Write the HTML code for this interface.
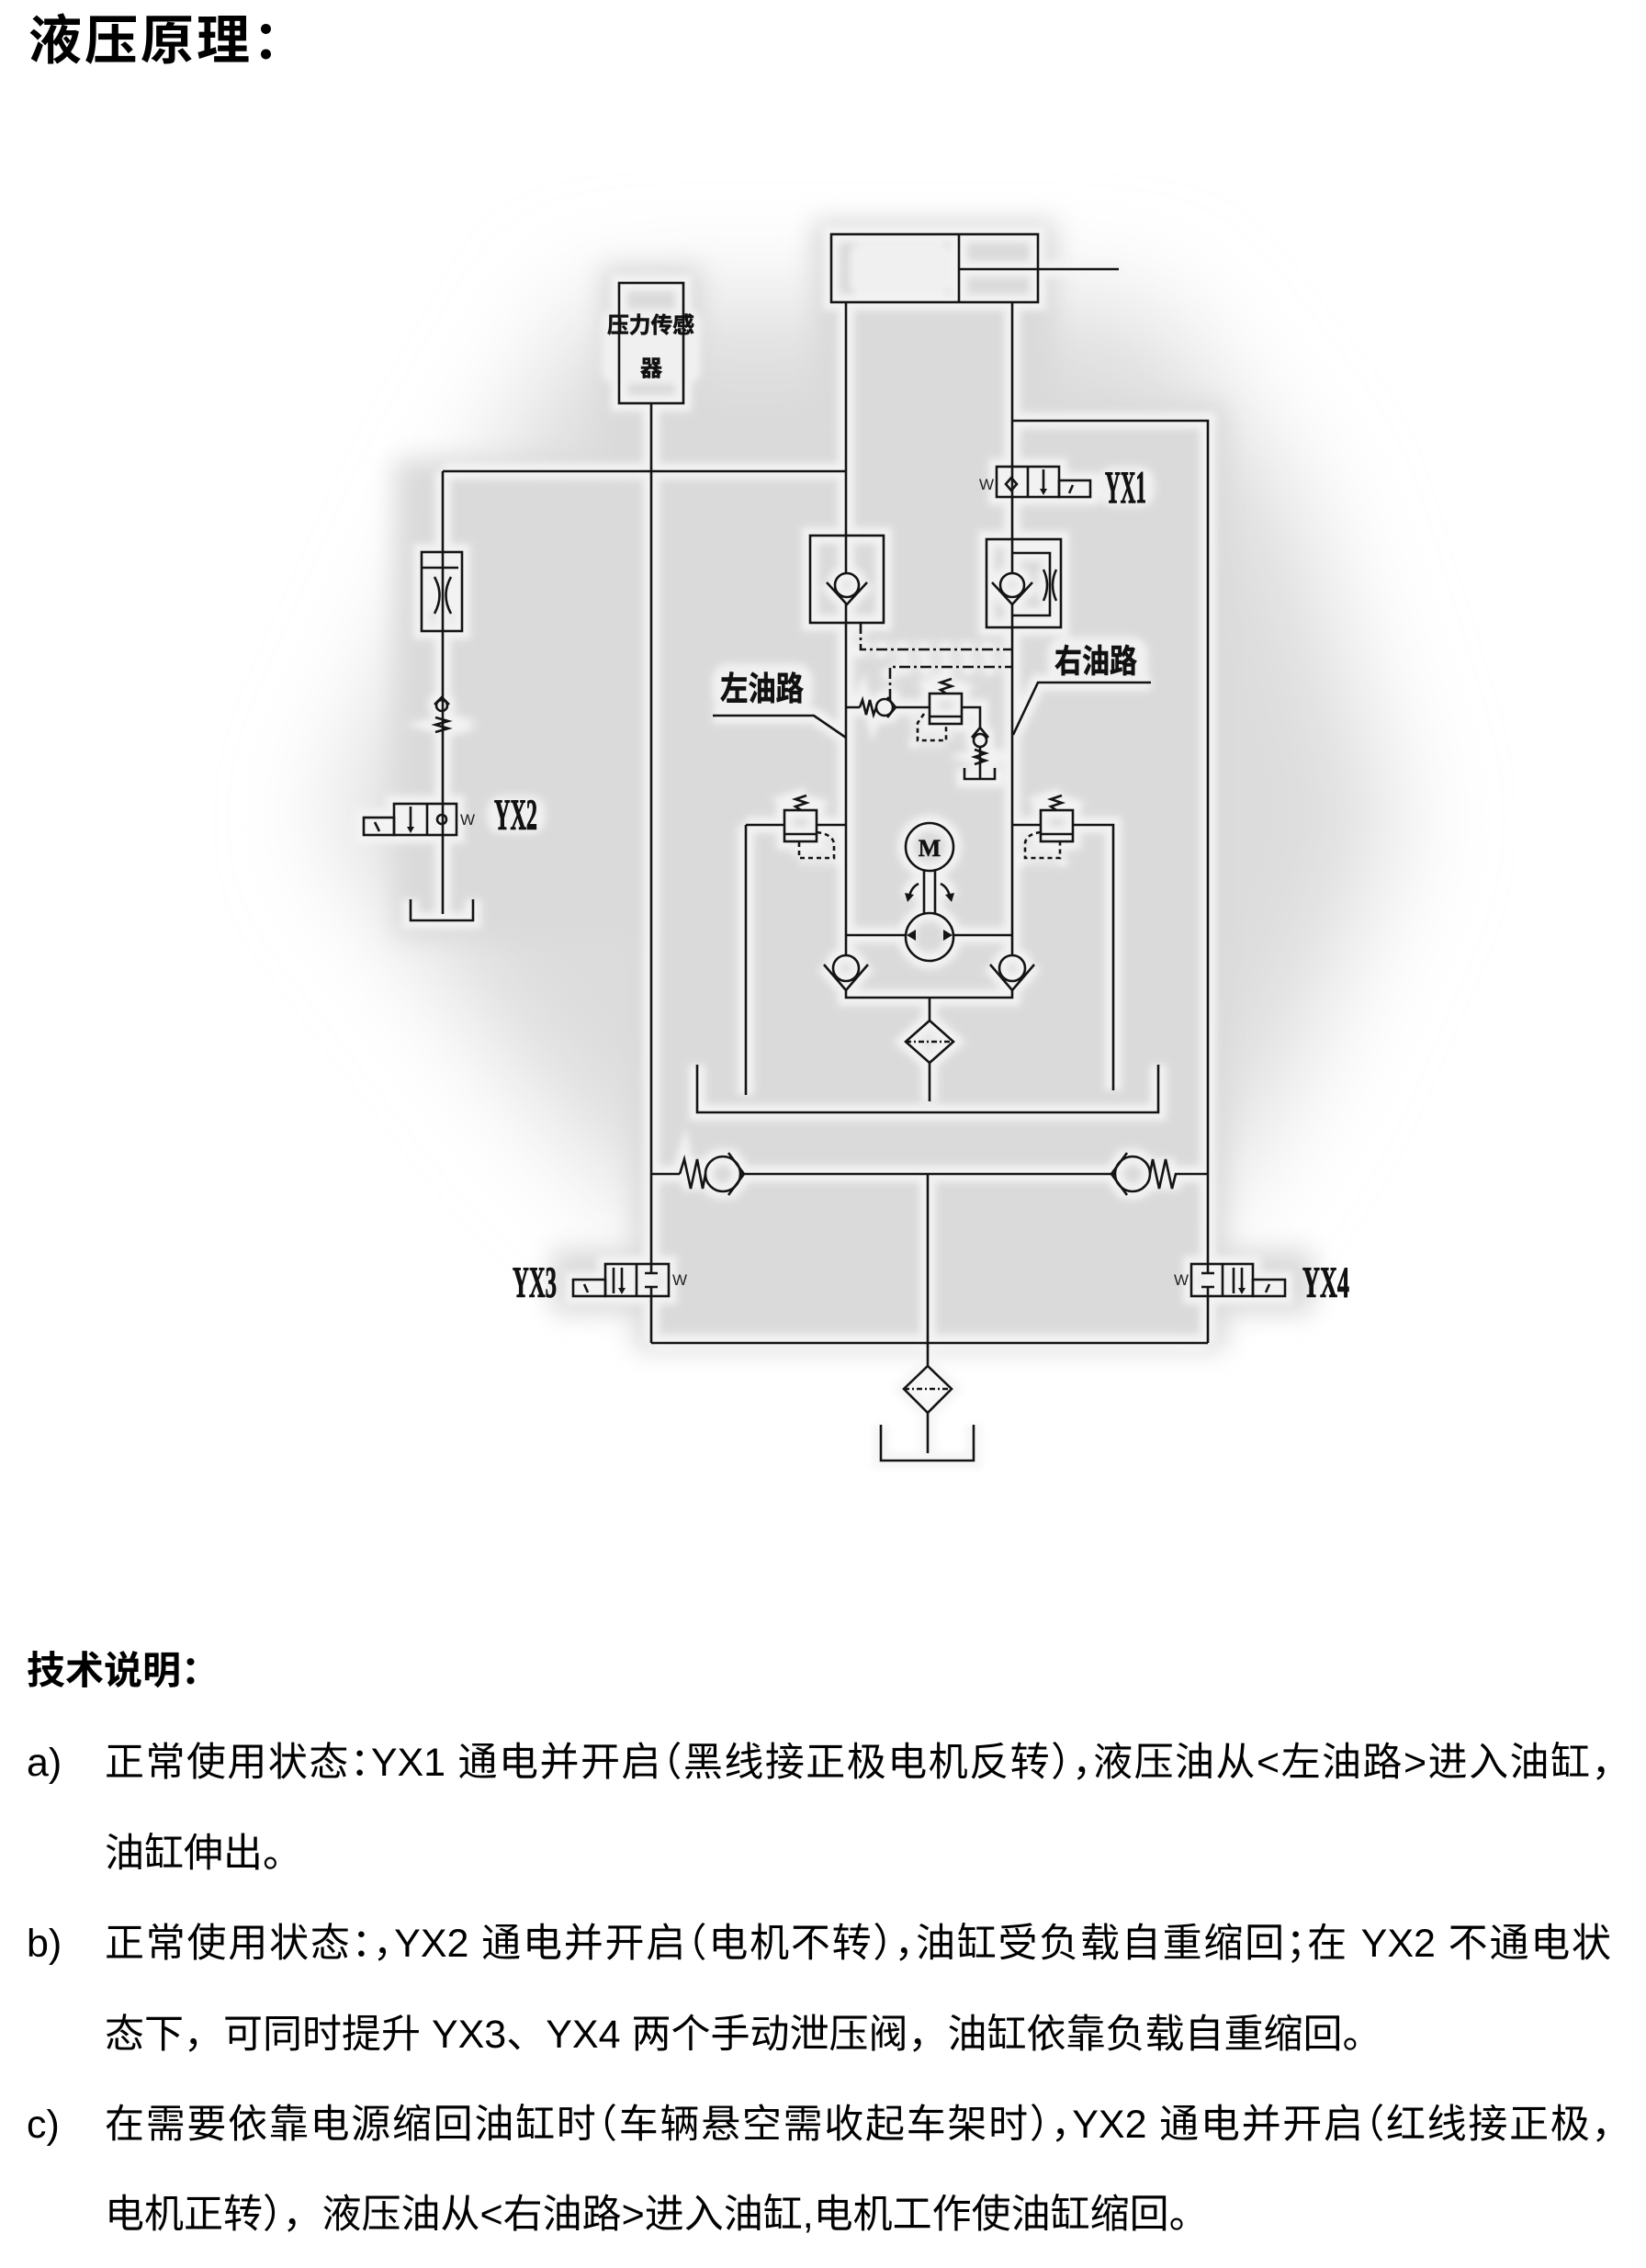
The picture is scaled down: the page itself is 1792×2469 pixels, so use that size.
<!DOCTYPE html>
<html lang="zh-CN">
<head>
<meta charset="utf-8">
<style>
html,body{margin:0;padding:0;background:#fff;}
body{width:1792px;height:2469px;position:relative;overflow:hidden;}
.t{position:absolute;white-space:nowrap;color:#000;font-family:"Liberation Sans","Noto Sans CJK SC",sans-serif;}
.ln{font-size:43px;line-height:60px;height:60px;}
.j{text-align:justify;text-align-last:justify;width:1640px;left:114px;font-feature-settings:"halt" 1;}
.lb{left:29px;}
svg{position:absolute;left:0;top:0;}
</style>
</head>
<body>
<svg width="1792" height="1700" viewBox="0 0 1792 1700">
<defs>
<filter id="bb" filterUnits="userSpaceOnUse" x="0" y="0" width="1792" height="1700"><feGaussianBlur stdDeviation="60"/></filter>
<filter id="mb" filterUnits="userSpaceOnUse" x="0" y="0" width="1792" height="1700"><feGaussianBlur stdDeviation="14"/></filter>
<filter id="hb" filterUnits="userSpaceOnUse" x="0" y="0" width="1792" height="1700"><feGaussianBlur stdDeviation="4"/></filter>
<g id="geo">
<rect x="905" y="255" width="225" height="74"/>
<path d="M1044 255V329 M1044 293H1218"/>
<rect x="674" y="308" width="70" height="131"/>
<path d="M709 439V1386 M709 1401V1462"/>
<path d="M921 329V624 M921 657V1040"/>
<path d="M1102 329V624 M1102 657V1040"/>
<path d="M482 513H921 M1102 458H1315V1386 M1315 1401V1462 M709 1462H1315"/>
<path d="M482 513V995"/>
<rect x="459" y="601" width="44" height="86"/>
<path d="M459 618H499"/>
<path d="M473 628Q484 648 473 668 M491 628Q480 648 491 668"/>
<circle cx="481" cy="768" r="6"/>
<path d="M473 767L481 759L489 767"/>
<path d="M474 781L488 785L474 789L488 793L474 797"/>
<rect x="396" y="890" width="33" height="19"/>
<rect x="429" y="875" width="68" height="34"/>
<path d="M465 875V909 M447 878V903 M408 895L413 905"/>
<path class="f" d="M443 900L451 900L447 907Z"/>
<circle cx="481" cy="892" r="5"/>
<path d="M447 979V1002H515V979"/>
<rect x="1085" y="508" width="68" height="33"/>
<path d="M1119 508V541 M1136 511V534 M1168 528L1164 537"/>
<path class="f" d="M1132 532L1140 532L1136 539Z"/>
<rect x="1153" y="523" width="34" height="18"/>
<path d="M1101 520L1107 527L1101 534L1095 527Z"/>
<rect x="882" y="583" width="80" height="95"/>
<circle cx="922" cy="637" r="13"/>
<path d="M900 634L922 658L944 634"/>
<rect x="1074" y="587" width="81" height="96"/>
<path d="M1102 602H1143V670H1102"/>
<circle cx="1102" cy="637" r="13"/>
<path d="M1080 634L1102 658L1124 634"/>
<path d="M1136 620Q1144 637 1136 654 M1150 620Q1142 637 1150 654"/>
<path d="M937 678V707H1102" stroke-dasharray="12 4 3 4"/>
<path d="M969 762V726H1102" stroke-dasharray="12 4 3 4"/>
<path d="M921 770H936 M936 770L939 762L943 778L947 762L951 778L954 770"/>
<circle cx="963" cy="770" r="9"/>
<path d="M966 759L975 770L966 781 M975 770H1012"/>
<rect x="1012" y="755" width="35" height="33"/>
<path d="M1012 780H1047 M1030 755L1024 751L1036 747L1024 743L1036 739"/>
<path d="M1006 777L999 787V806H1030V788" stroke-dasharray="5 4"/>
<path d="M1047 770H1067V794 M1058 803L1067 792L1076 803"/>
<circle cx="1067" cy="806" r="7"/>
<path d="M1061 816L1073 820L1061 824L1073 828L1061 832 M1067 813V847 M1050 836V848H1083V836"/>
<path d="M776 779H886L921 803"/>
<path d="M1253 743H1130L1103 800"/>
<path d="M812 898H854 M889 898H921 M812 898V1192"/>
<rect x="854" y="882" width="35" height="34"/>
<path d="M854 908H889 M872 882L866 878L878 874L866 870L878 866"/>
<path d="M889 906Q906 908 908 918V934H870V916" stroke-dasharray="5 4"/>
<path d="M1102 898H1133 M1168 898H1212V1187"/>
<rect x="1133" y="882" width="35" height="34"/>
<path d="M1133 908H1168 M1150 882L1144 878L1156 874L1144 870L1156 866"/>
<path d="M1133 906Q1117 908 1116 918V934H1154V916" stroke-dasharray="5 4"/>
<circle cx="1012" cy="922" r="26"/>
<path d="M1006 948V995 M1018 948V995"/>
<path d="M1000 962Q992 966 990 976 M1024 962Q1032 966 1034 976"/>
<path class="f" d="M985 972L995 974L988 982Z M1039 972L1029 974L1036 982Z"/>
<circle cx="1012" cy="1020" r="26"/>
<path class="f" d="M987 1018L997 1012V1024Z M1037 1018L1027 1012V1024Z"/>
<path d="M921 1018H986 M1038 1018H1102"/>
<circle cx="921" cy="1054" r="14"/>
<path d="M897 1050L921 1078L945 1050"/>
<circle cx="1102" cy="1054" r="14"/>
<path d="M1078 1050L1102 1078L1126 1050"/>
<path d="M921 1078V1086H1102V1078 M1012 1086V1111"/>
<path d="M1012 1111L1038 1134L1012 1157L986 1134Z"/>
<path d="M986 1134H1038" stroke-dasharray="6 3 2 3"/>
<path d="M1012 1157V1199"/>
<path d="M759 1159V1211H1261V1159"/>
<path d="M709 1278H740 M740 1278L745 1262L752 1294L759 1262L765 1294L768 1278"/>
<circle cx="787" cy="1278" r="19"/>
<path d="M793 1255L810 1278L793 1301 M806 1278H1214"/>
<circle cx="1233" cy="1278" r="19"/>
<path d="M1227 1255L1210 1278L1227 1301"/>
<path d="M1252 1278L1255 1262L1262 1294L1269 1262L1276 1294L1280 1278H1315"/>
<path d="M1010 1278V1487"/>
<rect x="624" y="1393" width="35" height="18"/>
<rect x="659" y="1376" width="69" height="35"/>
<path d="M693 1376V1411 M668 1380V1408 M677 1380V1404 M702 1386H716 M702 1401H716 M636 1398L640 1407"/>
<path class="f" d="M673 1402L681 1402L677 1409Z"/>
<rect x="1297" y="1376" width="67" height="35"/>
<path d="M1331 1376V1411 M1343 1380V1408 M1352 1380V1404 M1308 1386H1322 M1308 1401H1322 M1382 1398L1378 1407"/>
<path class="f" d="M1348 1402L1356 1402L1352 1409Z"/>
<rect x="1364" y="1393" width="35" height="18"/>
<path d="M1010 1487L1036 1512L1010 1538L984 1512Z"/>
<path d="M984 1512H1036" stroke-dasharray="6 3 2 3"/>
<path d="M1010 1538V1582 M959 1551V1590H1060V1551"/>
</g>
</defs>

<polygon filter="url(#bb)" fill="#dcdcdc" points="640,330 1250,330 1410,540 1520,900 1400,1180 1300,1330 720,1330 590,1200 360,900 510,560"/>
<g filter="url(#mb)" fill="#dadada">
<rect x="690" y="440" width="645" height="1030"/>
<rect x="885" y="240" width="265" height="230"/>
<rect x="655" y="290" width="110" height="230"/>
<rect x="430" y="500" width="290" height="520"/>
<rect x="600" y="1360" width="160" height="70"/>
<rect x="1270" y="1360" width="160" height="70"/>
</g>
<g filter="url(#hb)" opacity="0.9">
<use href="#geo" fill="none" stroke="#f5f5f5" stroke-width="18" color="#f5f5f5" style="stroke-dasharray:none"/>
<g fill="#f3f3f3">
<rect x="775" y="722" width="110" height="54" rx="18"/>
<rect x="1140" y="693" width="110" height="52" rx="18"/>
<rect x="1195" y="508" width="62" height="44" rx="16"/>
<rect x="530" y="866" width="64" height="42" rx="16"/>
<rect x="655" y="336" width="108" height="82" rx="14"/>
<rect x="925" y="265" width="110" height="55" rx="12"/>
</g>
</g>
<use href="#geo" fill="none" stroke="#141414" stroke-width="2.6" color="#141414"/>
<style>.f{fill:currentColor;stroke:none;}</style>

<g font-family="'Liberation Sans','Noto Sans CJK SC',sans-serif" font-weight="bold" fill="#111" stroke="#111" stroke-width="0.6">
<text x="784" y="762" font-size="36" textLength="91" lengthAdjust="spacingAndGlyphs">左油路</text>
<text x="1148" y="732" font-size="35" textLength="90" lengthAdjust="spacingAndGlyphs">右油路</text>
<text x="661" y="362" font-size="24" textLength="95" lengthAdjust="spacingAndGlyphs">压力传感</text>
<text x="709" y="409" font-size="24" text-anchor="middle">器</text>
</g>
<g font-family="'Liberation Serif',serif" font-weight="bold" fill="#111" stroke="#111" stroke-width="1">
<text x="1203" y="547" font-size="50" textLength="45" lengthAdjust="spacingAndGlyphs">YX1</text>
<text x="538" y="903" font-size="48" textLength="47" lengthAdjust="spacingAndGlyphs">YX2</text>
<text x="558" y="1412" font-size="48" textLength="48" lengthAdjust="spacingAndGlyphs">YX3</text>
<text x="1418" y="1412" font-size="48" textLength="51" lengthAdjust="spacingAndGlyphs">YX4</text>
<text x="1012" y="932" font-size="26" text-anchor="middle" stroke-width="0.5">M</text>
</g>
<g font-family="'Liberation Sans',sans-serif" font-size="17" fill="#222">
<text x="1066" y="533">W</text>
<text x="501" y="898">W</text>
<text x="732" y="1399">W</text>
<text x="1278" y="1399">W</text>
</g>
</svg>

<div class="t" style="top:10px;left:31px;font-size:58px;line-height:70px;font-weight:bold;letter-spacing:3px;">液压原理：</div>

<div class="t" style="top:1789px;left:29px;font-size:42px;line-height:60px;font-weight:bold;">技术说明：</div>

<div class="t ln lb" style="top:1889px;">a)</div>
<div class="t ln j" style="top:1889px;">正常使用状态：YX1 通电并开启（黑线接正极电机反转），液压油从&lt;左油路&gt;进入油缸，</div>
<div class="t ln" style="top:1988px;left:114px;">油缸伸出。</div>

<div class="t ln lb" style="top:2086px;">b)</div>
<div class="t ln j" style="top:2086px;">正常使用状态：，YX2 通电并开启（电机不转），油缸受负载自重缩回；在 YX2 不通电状</div>
<div class="t ln" style="top:2185px;left:114px;">态下，可同时提升 YX3、YX4 两个手动泄压阀，油缸依靠负载自重缩回。</div>

<div class="t ln lb" style="top:2283px;">c)</div>
<div class="t ln j" style="top:2283px;">在需要依靠电源缩回油缸时（车辆悬空需收起车架时），YX2 通电并开启（红线接正极，</div>
<div class="t ln" style="top:2381px;left:114px;">电机正转），液压油从&lt;右油路&gt;进入油缸,电机工作使油缸缩回。</div>
</body>
</html>
